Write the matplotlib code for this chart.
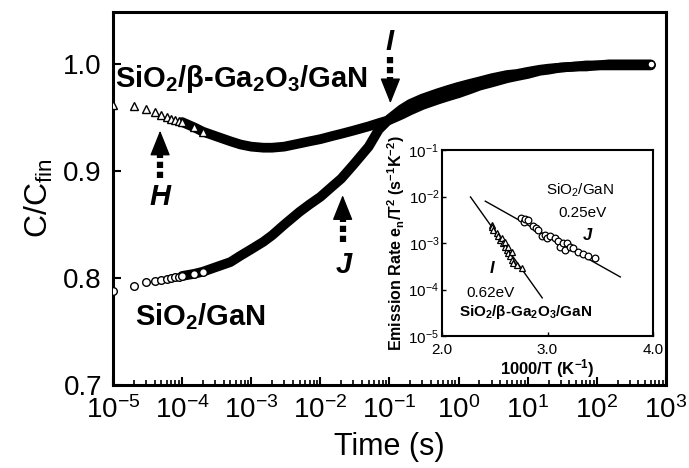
import matplotlib

matplotlib.use("Agg")
import matplotlib.pyplot as plt
from matplotlib.ticker import LogLocator, NullLocator, NullFormatter

plt.rcParams["font.family"] = ["Liberation Sans", "DejaVu Sans"]
plt.rcParams["mathtext.default"] = "regular"

# main panel: normalised capacitance transients C/C_fin vs time (s)
ga2o3_t = [1e-5, 2e-5, 3e-5, 4e-5, 5e-5, 6e-5, 7e-5, 8e-5, 9e-5, 1e-4,
           1.5e-4, 2e-4, 3e-4, 5e-4, 7e-4, 1e-3, 1.5e-3, 2e-3, 3e-3, 5e-3,
           7e-3, 1e-2, 1.5e-2, 2e-2, 3e-2, 5e-2, 7e-2, 0.1, 0.15, 0.2,
           0.3, 0.5, 0.7, 1, 1.5, 2, 3, 5, 7, 10,
           15, 20, 30, 50, 70, 100, 150, 200, 300, 600]
ga2o3_c = [0.962, 0.961, 0.958, 0.955, 0.953, 0.951, 0.949, 0.948, 0.947, 0.946,
           0.941, 0.937, 0.933, 0.928, 0.925, 0.923, 0.922, 0.922, 0.923, 0.926,
           0.928, 0.930, 0.933, 0.935, 0.938, 0.942, 0.945, 0.948, 0.953, 0.957,
           0.962, 0.967, 0.970, 0.973, 0.977, 0.980, 0.983, 0.987, 0.989, 0.991,
           0.994, 0.995, 0.997, 0.998, 0.998, 0.999, 0.999, 0.999, 0.999, 0.999]

gan_t = ga2o3_t
gan_c = [0.788, 0.793, 0.796, 0.797, 0.798, 0.799, 0.800, 0.801, 0.801, 0.802,
         0.804, 0.806, 0.810, 0.815, 0.821, 0.827, 0.834, 0.840, 0.850, 0.862,
         0.869, 0.876, 0.886, 0.893, 0.906, 0.923, 0.939, 0.949, 0.958, 0.963,
         0.968, 0.973, 0.976, 0.979, 0.982, 0.984, 0.987, 0.990, 0.991, 0.993,
         0.995, 0.996, 0.997, 0.998, 0.999, 0.999, 1.000, 1.000, 1.000, 1.000]

# inset: Arrhenius plot, 1000/T (1/K) vs e_n/T^2
ins_gan_x = [2.746, 2.777, 2.787, 2.818, 2.865, 2.891, 2.913, 2.945, 2.976, 2.992,
             3.024, 3.071, 3.103, 3.118, 3.150, 3.166, 3.182, 3.213, 3.245, 3.292,
             3.340, 3.387, 3.450]
ins_gan_logy = [-2.46, -2.54, -2.48, -2.51, -2.63, -2.67, -2.72, -2.86, -2.83, -2.90,
                -2.84, -2.90, -2.96, -3.08, -3.01, -3.15, -2.99, -3.08, -3.11, -3.19,
                -3.24, -3.27, -3.33]
ins_ga2o3_x = [2.470, 2.471, 2.487, 2.518, 2.534, 2.550, 2.566, 2.581, 2.597, 2.597,
               2.613, 2.628, 2.628, 2.645, 2.660, 2.660, 2.676, 2.708, 2.755]
ins_ga2o3_logy = [-2.61, -2.65, -2.72, -2.79, -2.86, -2.94, -2.90, -3.01, -3.08, -2.97,
                  -3.15, -3.22, -3.08, -3.29, -3.37, -3.19, -3.44, -3.47, -3.53]
fit_gan_x = [2.41, 3.69]
fit_gan_logy = [-2.10, -3.73]
fit_ga2o3_x = [2.27, 2.95]
fit_ga2o3_logy = [-2.01, -4.18]

fig = plt.figure(figsize=(6.89, 4.68), dpi=100)
ax = fig.add_axes([0.164, 0.1774, 0.8026, 0.797])

n_line = 9     # dense part drawn as a thick band
n_marks = 12   # sparse early points drawn as open markers
for t, c, mk in [(ga2o3_t, ga2o3_c, "^"), (gan_t, gan_c, "o")]:
  ax.plot(t[n_line:], c[n_line:], "-", color="black", lw=7,
          solid_capstyle="round", zorder=2)
  ax.plot(t[:n_marks], c[:n_marks], linestyle="none", marker=mk, ms=5.5,
          mfc="white", mec="black", mew=1.0, zorder=3)
  ax.plot(t[-1:], c[-1:], linestyle="none", marker="o", ms=5,
          mfc="white", mec="black", mew=1.0, zorder=3)

ax.set_xscale("log")
ax.set_xlim(1e-5, 1e3)
ax.set_ylim(0.7, 1.049)
ax.set_yticks([0.7, 0.8, 0.9, 1.0])
ax.set_yticklabels(["0.7", "0.8", "0.9", "1.0"])
ax.xaxis.set_major_locator(LogLocator(base=10, numticks=20))
ax.xaxis.set_minor_locator(LogLocator(base=10, subs=range(2, 10), numticks=100))
ax.xaxis.set_minor_formatter(NullFormatter())
ax.tick_params(axis="both", which="major", direction="in", length=6, width=1.5,
               labelsize=20, pad=8, top=False, right=False)
ax.tick_params(axis="x", which="minor", direction="in", length=3.5, width=1.2,
               top=False)
for sp in ax.spines.values():
  sp.set_linewidth(2.2)

ax.set_xlabel("Time (s)", fontsize=22, labelpad=6)
ax.set_ylabel("C/C$_{fin}$", fontsize=23, labelpad=6)

ax.text(1.07e-5, 0.9785, "SiO$_2$/β-Ga$_2$O$_3$/GaN", fontsize=21,
        fontweight="bold", ha="left", va="baseline")
ax.text(2.1e-5, 0.756, "SiO$_2$/GaN", fontsize=21, fontweight="bold",
        ha="left", va="baseline")
for x, y, s in [(4.8e-5, 0.868, "H"), (2.15e-2, 0.8047, "J"), (0.1, 1.013, "I")]:
  ax.text(x, y, s, fontsize=21, fontweight="bold", style="italic",
          ha="center", va="baseline")

# dotted arrows: (x, tip, head base, tail)
for x, tip, base, tail in [(4.8e-5, 0.938, 0.918, 0.894),
                           (2.1e-2, 0.8776, 0.857, 0.834),
                           (0.103, 0.9636, 0.984, 1.007)]:
  ax.plot([x, x], [tail, base], color="black", lw=4.5,
          linestyle=(0, (1.0, 0.6)), dash_capstyle="butt")
  ax.annotate("", xy=(x, tip), xytext=(x, base),
              arrowprops=dict(arrowstyle="-|>,head_length=0.8,head_width=0.32",
                              color="black", lw=1.0, mutation_scale=20,
                              shrinkA=0, shrinkB=0))

# inset
ins = fig.add_axes([0.6415, 0.282, 0.3063, 0.3975])
ins.plot(fit_gan_x, [10 ** v for v in fit_gan_logy], color="black", lw=1.0)
ins.plot(fit_ga2o3_x, [10 ** v for v in fit_ga2o3_logy], color="black", lw=1.0)
ins.plot(ins_gan_x, [10 ** v for v in ins_gan_logy], linestyle="none",
         marker="o", ms=4.8, mfc="white", mec="black", mew=0.9)
ins.plot(ins_ga2o3_x, [10 ** v for v in ins_ga2o3_logy], linestyle="none",
         marker="^", ms=4.5, mfc="white", mec="black", mew=0.9)
ins.set_yscale("log")
ins.set_xlim(2.0, 4.0)
ins.set_ylim(1e-5, 1e-1)
ins.set_xticks([2.0, 3.0, 4.0])
ins.set_xticklabels(["2.0", "3.0", "4.0"])
ins.yaxis.set_minor_locator(NullLocator())
ins.tick_params(axis="both", direction="in", length=3, width=1.0,
                labelsize=11, top=False, right=False)
ins.tick_params(axis="x", pad=5)
ins.tick_params(axis="y", pad=2)
for sp in ins.spines.values():
  sp.set_linewidth(1.5)
ins.set_xlabel("1000/T (K$^{-1}$)", fontsize=12, fontweight="bold", labelpad=0)
ins.set_ylabel("Emission Rate e$_n$/T$^2$ (s$^{-1}$K$^{-2}$)", fontsize=11.5,
               fontweight="bold", labelpad=1)

ins.text(3.308, 1.38e-2, "SiO$_2$/GaN", fontsize=11, ha="center", va="center")
ins.text(3.327, 4.4e-3, "0.25eV", fontsize=11, ha="center", va="center")
ins.text(3.374, 1.48e-3, "J", fontsize=12, fontweight="bold", style="italic",
         ha="center", va="center")
ins.text(2.474, 2.9e-4, "I", fontsize=12, fontweight="bold", style="italic",
         ha="center", va="center")
ins.text(2.464, 8.4e-5, "0.62eV", fontsize=11, ha="center", va="center")
ins.text(2.796, 3.3e-5, "SiO$_2$/β-Ga$_2$O$_3$/GaN", fontsize=11,
         fontweight="bold", ha="center", va="center")

fig.savefig("out.png", dpi=100)
